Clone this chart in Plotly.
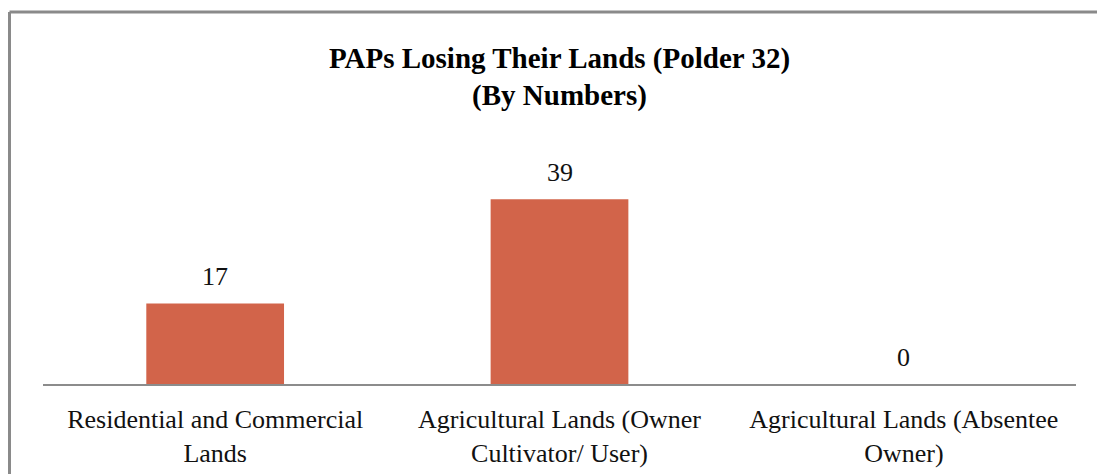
import plotly.graph_objects as go

categories = [
    "Residential and Commercial<br>Lands",
    "Agricultural Lands (Owner<br>Cultivator/ User)",
    "Agricultural Lands (Absentee<br>Owner)",
]
values = [17, 39, 0]

BAR_COLOR = "#D2644A"
FONT = "Liberation Serif, Times New Roman, serif"

W, H = 1097, 474
ML, MR, MT, MB = 43, 21, 150, 90
PW, PH = W - ML - MR, H - MT - MB


def px_x(px):
    return (px - ML) / PW


def px_y(py):
    return (H - MB - py) / PH


fig = go.Figure(
    go.Bar(
        x=categories,
        y=values,
        marker=dict(color=BAR_COLOR, line=dict(width=0)),
        width=0.4,
        hoverinfo="skip",
    )
)

# value labels above each bar
for c, v in zip(categories, values):
    fig.add_annotation(
        x=c, y=v, text=str(v), showarrow=False,
        yanchor="bottom", yshift=10,
        font=dict(family=FONT, size=26, color="#111111"),
    )

# frame edges (left and top)
fig.add_shape(type="line", xref="paper", yref="paper",
              x0=px_x(9.5), x1=px_x(1120), y0=px_y(12), y1=px_y(12),
              line=dict(color="#8a8a8a", width=3))
fig.add_shape(type="line", xref="paper", yref="paper",
              x0=px_x(9.5), x1=px_x(9.5), y0=px_y(12), y1=px_y(500),
              line=dict(color="#8a8a8a", width=3))

fig.update_layout(
    width=W, height=H,
    margin=dict(l=ML, r=MR, t=MT, b=MB, autoexpand=False),
    paper_bgcolor="white", plot_bgcolor="white",
    showlegend=False,
    title=dict(
        text="<b>PAPs Losing Their Lands (Polder 32)<br>(By Numbers)</b>",
        x=559.5 / W, xanchor="center",
        y=1 - 67.5 / H, yanchor="middle",
        font=dict(family=FONT, size=29, color="#000000"),
    ),
    font=dict(family=FONT, size=26, color="#111111"),
    bargap=0.6,
)
fig.update_xaxes(
    showline=True, linecolor="#8c8c8c", linewidth=2,
    showgrid=False, ticks="", ticklabelstandoff=11, automargin=False,
    tickfont=dict(family=FONT, size=26, color="#111111"),
)
fig.update_yaxes(
    range=[0, PH / 4.74], visible=False, showgrid=False, zeroline=False,
    automargin=False,
)

fig.write_html("out.html")
